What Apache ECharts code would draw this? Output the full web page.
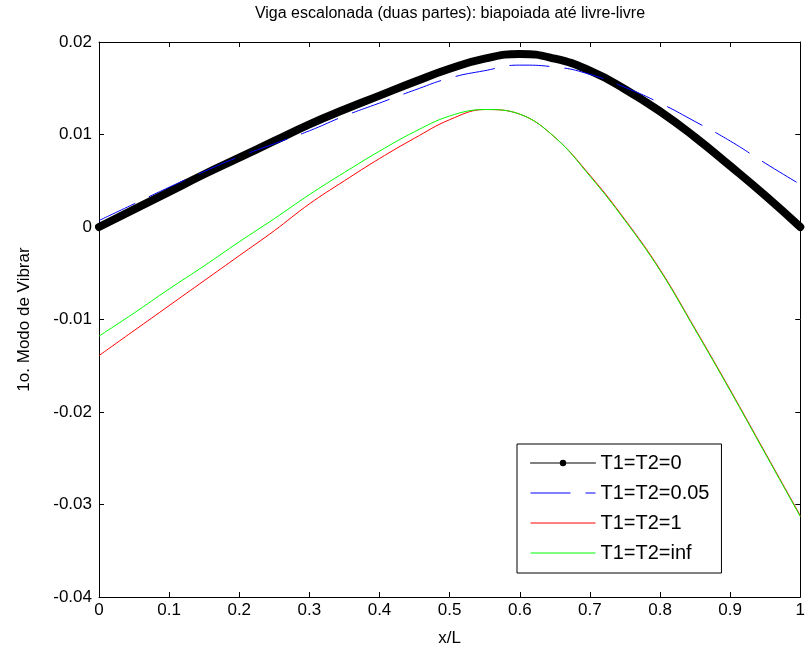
<!DOCTYPE html>
<html>
<head>
<meta charset="utf-8">
<script src="https://cdn.jsdelivr.net/npm/echarts@6/dist/echarts.min.js"></script>
<style>
html, body { margin: 0; padding: 0; background: #fff; }
#chart { width: 808px; height: 652px; }
</style>
</head>
<body>
<div id="chart"></div>
<script>
// posicoes x/L
var xs = [0, 0.05, 0.1, 0.15, 0.2, 0.25, 0.3, 0.35, 0.4, 0.45, 0.5,
          0.55, 0.6, 0.65, 0.7, 0.75, 0.8, 0.85, 0.9, 0.95, 1];

// 1o. modo de vibrar para cada caso
var modoT0   = [0, 0.0019, 0.0038, 0.0057, 0.0075, 0.0093, 0.0111, 0.0127, 0.0142, 0.0157, 0.0171,
                0.0182, 0.0187, 0.0182, 0.0169, 0.0149, 0.0125, 0.0097, 0.0066, 0.0034, 0];
var modoT005 = [0.0007, 0.0025, 0.0043, 0.0060, 0.0076, 0.0090, 0.0104, 0.0120, 0.0134, 0.0148, 0.0161,
                0.0169, 0.0175, 0.0173, 0.0165, 0.0151, 0.0134, 0.0114, 0.0093, 0.0069, 0.0046];
var modoT1   = [-0.0139, -0.0112, -0.0085, -0.0058, -0.0031, -0.0004, 0.0025, 0.0050, 0.0074, 0.0096, 0.0116,
                0.0127, 0.0122, 0.0097, 0.0056, 0.0008, -0.0046, -0.0110, -0.0176, -0.0244, -0.0312];
var modoTinf = [-0.0118, -0.0093, -0.0067, -0.0042, -0.0016, 0.0009, 0.0035, 0.0059, 0.0082, 0.0103, 0.0120,
                0.0127, 0.0122, 0.0097, 0.0055, 0.0007, -0.0047, -0.0111, -0.0177, -0.0245, -0.0313];

var nomes = ['T1=T2=0', 'T1=T2=0.05', 'T1=T2=1', 'T1=T2=inf'];

// rotulos dos eixos
var xTickValues = [0, 0.1, 0.2, 0.3, 0.4, 0.5, 0.6, 0.7, 0.8, 0.9, 1];
var xTickLabels = ['0', '0.1', '0.2', '0.3', '0.4', '0.5', '0.6', '0.7', '0.8', '0.9', '1'];
var yTickValues = [-0.04, -0.03, -0.02, -0.01, 0, 0.01, 0.02];
var yTickLabels = ['-0.04', '-0.03', '-0.02', '-0.01', '0', '0.01', '0.02'];

function rotulo(vals, labels) {
    return function (v) {
        for (var i = 0; i < vals.length; i++) {
            if (Math.abs(vals[i] - v) < 1e-9) return labels[i];
        }
        return '';
    };
}

function pares(ys) {
    return xs.map(function (x, i) { return [x, ys[i]]; });
}

var fonte = 'Liberation Sans, Arial, sans-serif';

var chart = echarts.init(document.getElementById('chart'));

var tick = { inside: true, length: 5, lineStyle: { color: '#000' } };
var linha = { show: true, onZero: false, lineStyle: { color: '#000', width: 1 } };
var semPonto = { opacity: 0 };
var fina = { width: 1 };

var options = {
    backgroundColor: '#fff',
    animation: false,
    title: {
        text: 'Viga escalonada (duas partes): biapoiada até livre-livre',
        left: 450,
        top: 6,
        padding: 0,
        textAlign: 'center',
        textStyle: { fontFamily: fonte, fontSize: 16, fontWeight: 'normal', color: '#000' }
    },
    grid: { left: 99, right: 6, top: 42, bottom: 52 },
    legend: {
        orient: 'vertical',
        left: 517,
        top: 444,
        padding: [9, 12, 10, 13],
        itemWidth: 65,
        itemHeight: 8,
        itemGap: 10,
        selectedMode: false,
        backgroundColor: '#fff',
        borderColor: '#000',
        borderWidth: 1,
        textStyle: { fontFamily: fonte, fontSize: 20, color: '#000' },
        data: [
            { name: nomes[0], lineStyle: fina },
            { name: nomes[1], lineStyle: fina, itemStyle: semPonto },
            { name: nomes[2], lineStyle: fina, itemStyle: semPonto },
            { name: nomes[3], lineStyle: fina, itemStyle: semPonto }
        ]
    },
    xAxis: [{
        type: 'value', min: 0, max: 1, interval: 0.1, position: 'bottom',
        axisLine: linha, axisTick: tick, splitLine: { show: false },
        axisLabel: { color: '#000', fontFamily: fonte, fontSize: 17, margin: 5,
                     formatter: rotulo(xTickValues, xTickLabels) },
        name: 'x/L', nameLocation: 'middle', nameGap: 33,
        nameTextStyle: { color: '#000', fontFamily: fonte, fontSize: 17 }
    }, {
        type: 'value', min: 0, max: 1, interval: 0.1, position: 'top',
        axisLine: linha, axisTick: tick, axisLabel: { show: false }, splitLine: { show: false }
    }],
    yAxis: [{
        type: 'value', min: -0.04, max: 0.02, interval: 0.01, position: 'left',
        axisLine: linha, axisTick: tick, splitLine: { show: false },
        axisLabel: { color: '#000', fontFamily: fonte, fontSize: 17, margin: 7,
                     formatter: rotulo(yTickValues, yTickLabels) },
        name: '1o. Modo de Vibrar', nameLocation: 'middle', nameGap: 66,
        nameTextStyle: { color: '#000', fontFamily: fonte, fontSize: 17 }
    }, {
        type: 'value', min: -0.04, max: 0.02, interval: 0.01, position: 'right',
        axisLine: linha, axisTick: tick, axisLabel: { show: false }, splitLine: { show: false }
    }],
    series: [{
        name: nomes[0], type: 'line', data: pares(modoT0), smooth: 0.5,
        symbol: 'circle', symbolSize: 6, showSymbol: false,
        itemStyle: { color: '#000' },
        lineStyle: { color: '#000', width: 8, cap: 'round', join: 'round' }
    }, {
        name: nomes[1], type: 'line', data: pares(modoT005), smooth: 0.5, symbol: 'none',
        itemStyle: { color: '#0000ff' },
        lineStyle: { color: '#0000ff', width: 1, type: [40, 15] }
    }, {
        name: nomes[2], type: 'line', data: pares(modoT1), smooth: 0.4, symbol: 'none',
        itemStyle: { color: '#ff0000' },
        lineStyle: { color: '#ff0000', width: 1 }
    }, {
        name: nomes[3], type: 'line', data: pares(modoTinf), smooth: 0.4, symbol: 'none',
        itemStyle: { color: '#00ff00' },
        lineStyle: { color: '#00ff00', width: 1 }
    }]
};

chart.setOption(options);
</script>
</body>
</html>
